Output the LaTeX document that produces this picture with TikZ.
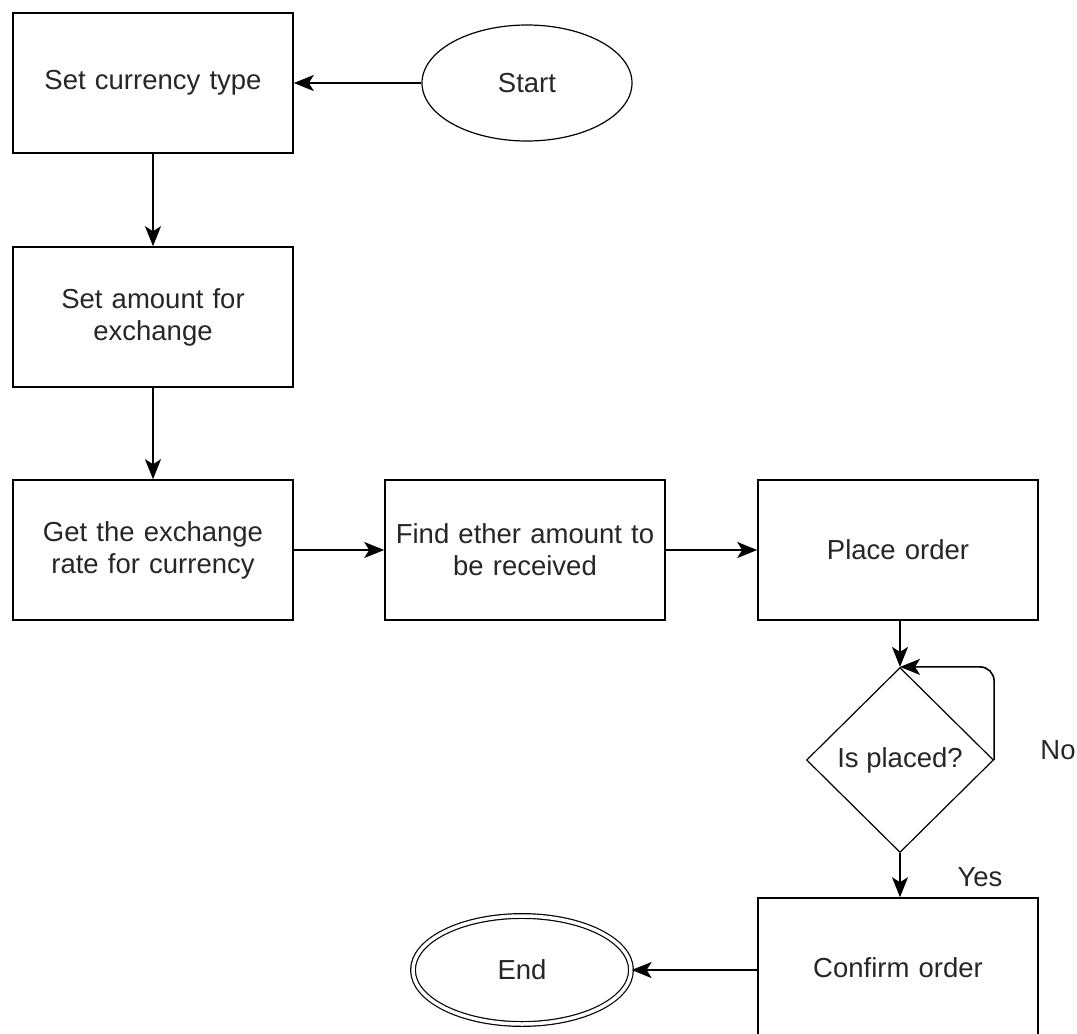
\documentclass[tikz,border=0pt]{standalone}
\usepackage{fontspec}
\setmainfont{Liberation Sans}
\usetikzlibrary{shapes.geometric,arrows.meta}
\begin{document}
\begin{tikzpicture}[x=1pt,y=-1pt,
  every node/.style={font=\fontsize{27.5}{32}\selectfont, text=black!85},
  box/.style={draw, line width=1.6pt, minimum width=280pt, minimum height=140pt, align=center, text width=270pt, inner sep=0pt},
  oval/.style={draw, ellipse, line width=1.2pt, minimum width=210pt, minimum height=116pt, inner sep=0pt},
  dec/.style={draw, diamond, line width=1.2pt, minimum width=187pt, minimum height=185pt, inner sep=0pt, aspect=1},
  conn/.style={line width=1.6pt, -{Stealth[length=20pt,width=16pt,inset=5pt]}},
  lbl/.style={inner sep=0pt}]
\useasboundingbox (0,0) rectangle (1077,1034);
\node[box] (b1) at (153,83) {Set currency type};
\node[oval] (start) at (527,83) {Start};
\node[box] (b2) at (153,317) {Set amount for\\exchange};
\node[box] (b3) at (153,550) {Get the exchange\\rate for currency};
\node[box] (b4) at (525,550) {Find ether amount to\\be received};
\node[box] (b5) at (898,550) {Place order};
\node[dec] (d) at (900,760) {Is placed?};
\node[box] (b6) at (898,968) {Confirm order};
\node[oval, double, double distance=3.5pt, minimum width=218pt, minimum height=108pt] (end) at (522,970) {End};
\node[lbl] (no) at (1058,750) {No};
\node[lbl] (yes) at (980,877) {Yes};
\draw[conn] (start.west) -- (b1.east);
\draw[conn] (b1.south) -- (b2.north);
\draw[conn] (b2.south) -- (b3.north);
\draw[conn] (b3.east) -- (b4.west);
\draw[conn] (b4.east) -- (b5.west);
\draw[conn] (b5.south -| d.north) -- (d.north);
\draw[conn] (d.south) -- (b6.north -| d.south);
\draw[conn] (b6.west |- end.east) -- (end.east);
\draw[conn, rounded corners=14pt] (d.east) -- (d.east |- d.north) -- (d.north);
\end{tikzpicture}
\end{document}
